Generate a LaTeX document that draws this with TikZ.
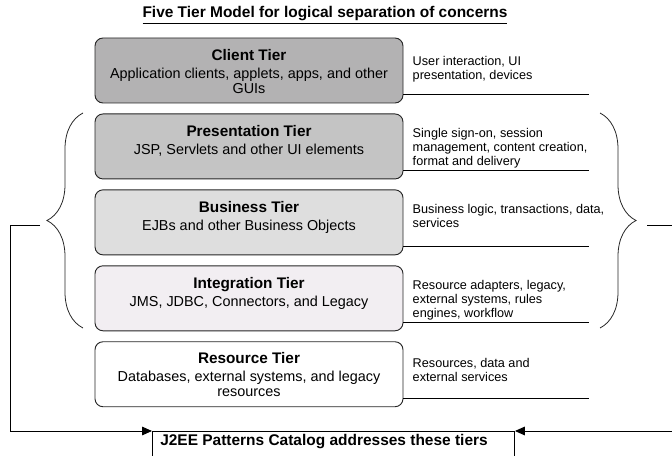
\documentclass[tikz,border=0pt]{standalone}
\usepackage{fontspec}
\setmainfont{Liberation Sans}
\usetikzlibrary{positioning,decorations.pathreplacing,arrows.meta}

\definecolor{clientgray}{RGB}{179,178,179}
\definecolor{presentgray}{RGB}{196,196,196}
\definecolor{businessgray}{RGB}{222,222,222}
\definecolor{integrationpink}{RGB}{242,238,242}

\newcommand{\tierfont}{\bfseries\fontsize{11.5}{13.5}\selectfont}

\tikzset{
  tierbox/.style={draw=black!85, line width=0.7pt, rounded corners=6pt,
    minimum width=231pt, minimum height=48.75pt, inner sep=0pt},
  tiertext/.style={align=center, inner sep=0pt,
    font=\fontsize{10.8}{11.25}\selectfont},
  notetext/.style={align=left, inner sep=0pt,
    font=\fontsize{9.5}{10.5}\selectfont},
  noteline/.style={line width=0.7pt},
  tierbrace/.style={decorate, line width=0.6pt, draw=black!85,
    decoration={brace, amplitude=27pt}},
  catalogbox/.style={draw=black, line width=0.7pt, fill=white,
    minimum width=271.5pt, minimum height=36pt, inner sep=0pt},
  catalogarrow/.style={line width=0.7pt,
    -{Triangle[length=7.5pt,width=6.5pt]}}
}

\begin{document}
\begin{tikzpicture}[x=0.75pt, y=-0.75pt]

        \def\gap{7.5pt}

        % Page is as large as the reference
        \useasboundingbox (0,0) rectangle (672,456);
        \clip (0,0) rectangle (672,456);

        \node[inner sep=0pt] (title) at (325,15)
        {\fontsize{11.6}{13}\selectfont\bfseries
         \underline{Five Tier Model for logical separation of concerns}};

        % The five tiers, one under the other
        \begin{scope}
            \node[tierbox, fill=clientgray] (client) at (249,70.5) {};
            \node[tierbox, fill=presentgray] (present)
            [below=\gap of client] {};
            \node[tierbox, fill=businessgray] (business)
            [below=\gap of present] {};
            \node[tierbox, fill=integrationpink] (integration)
            [below=\gap of business] {};
            \node[tierbox, fill=white] (resource)
            [below=\gap of integration] {};
        \end{scope}

        % Names of the tiers and what they hold
        \begin{scope}
            \node[tiertext] (clientText) [below=8.5pt of client.north]
            {{\tierfont Client Tier}\\[2.25pt]
             Application clients, applets, apps, and other\\ GUIs};
            \node[tiertext] (presentText) [below=8.5pt of present.north]
            {{\tierfont Presentation Tier}\\[2.25pt]
             JSP, Servlets and other UI elements};
            \node[tiertext] (businessText) [below=8.5pt of business.north]
            {{\tierfont Business Tier}\\[2.25pt]
             EJBs and other Business Objects};
            \node[tiertext] (integrationText)
            [below=8.5pt of integration.north]
            {{\tierfont Integration Tier}\\[2.25pt]
             JMS, JDBC, Connectors, and Legacy};
            \node[tiertext] (resourceText) [below=8.5pt of resource.north]
            {{\tierfont Resource Tier}\\[2.25pt]
             Databases, external systems, and legacy\\ resources};
        \end{scope}

        % Notes on the right of each tier
        \begin{scope}
            \node[notetext] (clientNote)
            [below right=14pt and 6.75pt of client.north east]
            {User interaction, UI\\ presentation, devices};
            \node[notetext] (presentNote)
            [below right=11.25pt and 6.75pt of present.north east]
            {Single sign-on, session\\ management, content creation,\\
             format and delivery};
            \node[notetext] (businessNote)
            [below right=11.25pt and 6.75pt of business.north east]
            {Business logic, transactions, data,\\ services};
            \node[notetext] (integrationNote)
            [below right=11.25pt and 6.75pt of integration.north east]
            {Resource adapters, legacy,\\ external systems, rules\\
             engines, workflow};
            \node[notetext] (resourceNote)
            [below right=12.75pt and 6.75pt of resource.north east]
            {Resources, data and\\ external services};
        \end{scope}

        \begin{scope}[noteline]
            \draw ([yshift=6.75pt]client.south east) -- ++(186,0);
            \draw ([yshift=6.75pt]present.south east) -- ++(186,0);
            \draw ([yshift=6.75pt]business.south east) -- ++(186,0);
            \draw ([yshift=6.75pt]integration.south east) -- ++(186,0);
            \draw ([yshift=6.75pt]resource.south east) -- ++(186,0);
        \end{scope}

        % Braces round the three middle tiers
        \draw[tierbrace] (83,328) -- (83,113);
        \draw[tierbrace] (600,113) -- (600,328);

        % Catalog box, cut by the lower edge
        \node[catalogbox, anchor=north west] (catalog) at (152,431) {};
        \node[inner sep=0pt, anchor=west,
              font=\fontsize{11.6}{13}\selectfont\bfseries]
        (catalogText) at (160,442)
        {J2EE Patterns Catalog addresses these tiers};

        \coordinate (leftEnd) at (40,225);
        \coordinate (rightEnd) at (647,225);

        \begin{scope}
            \draw[catalogarrow] (leftEnd) -- (10,225) |- (catalog.north west);
            \draw[catalogarrow] (rightEnd) -- (700,225) |- (catalog.north east);
        \end{scope}

\end{tikzpicture}
\end{document}
